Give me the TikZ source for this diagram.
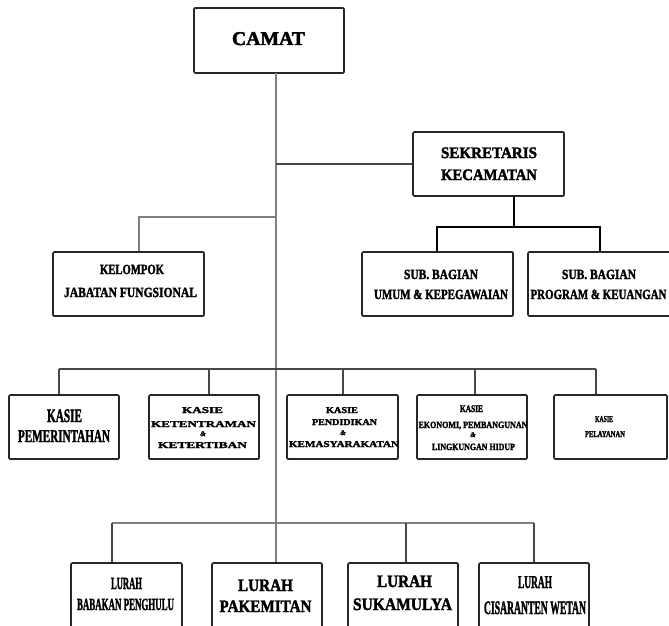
\documentclass[tikz,border=0pt]{standalone}
\usepackage{fontspec}
\setmainfont{Liberation Serif}[BoldFeatures={FakeBold=2.2},BoldItalicFeatures={FakeBold=2.2}]
\usepackage{graphicx}
\newcommand\tline[3]{{\fontsize{#1}{#1}\selectfont\bfseries\resizebox{#2pt}{\height}{#3}}}
\newcommand\amp[1]{{\fontsize{#1}{#1}\selectfont\bfseries\itshape\&}}
\begin{document}
\begin{tikzpicture}[x=1pt,y=-1pt,
  box/.style={draw=black!85, line width=1.7pt, rounded corners=1.2pt, inner sep=0pt, fill=white},
  tx/.style={anchor=base, inner sep=0pt, text=black},
  trunk/.style={draw=black!50, line width=1.3pt},
  link/.style={draw=black!72, line width=1.3pt},
  strong/.style={draw=black, line width=2pt}]
\clip (0,0) rectangle (669,626);
\fill[white] (0,0) rectangle (669,626);
% coordinates for connector bends
\coordinate (t0) at (276,73);
\coordinate (kj) at (139,217);
\coordinate (sj) at (514,227);
\coordinate (su) at (437,227);
\coordinate (sp) at (600,227);
\coordinate (a1) at (59,369);
\coordinate (a2) at (209,369);
\coordinate (a3) at (343,369);
\coordinate (a4) at (475,369);
\coordinate (a5) at (596,369);
\coordinate (c1) at (112,523);
\coordinate (c3) at (406,523);
\coordinate (c4) at (534,523);
% boxes
\node[box, minimum width=150pt, minimum height=65pt] (camat) at (269,40.5) {};
\node[box, minimum width=151pt, minimum height=64pt] (sek) at (488.5,164) {};
\node[box, minimum width=151pt, minimum height=64pt] (kel) at (128.5,284) {};
\node[box, minimum width=151pt, minimum height=64pt] (umum) at (437.5,284) {};
\node[box, minimum width=151pt, minimum height=64pt] (prog) at (603.5,284) {};
\node[box, minimum width=110pt, minimum height=64pt] (kp) at (64,427) {};
\node[box, minimum width=110pt, minimum height=64pt] (kk) at (204,427) {};
\node[box, minimum width=111pt, minimum height=64pt] (kpd) at (342.5,427) {};
\node[box, minimum width=110pt, minimum height=64pt] (ke) at (472,427) {};
\node[box, minimum width=113pt, minimum height=64pt] (kpl) at (610.5,427) {};
\node[box, minimum width=111pt, minimum height=80pt] (l1) at (126.5,603) {};
\node[box, minimum width=110pt, minimum height=80pt] (l2) at (267,603) {};
\node[box, minimum width=110pt, minimum height=80pt] (l3) at (403,603) {};
\node[box, minimum width=110pt, minimum height=80pt] (l4) at (534,603) {};
% connectors
\draw[trunk] (t0) -- (t0 |- l2.north);
\draw[link] (t0 |- sek.west) -- (sek.west);
\draw[trunk] (t0 |- kj) -- (kj) -- (kj |- kel.north);
\draw[strong] (sek.south -| sj) -- (sj);
\draw[strong] (su |- umum.north) -- (su) -- (sp) -- (sp |- prog.north);
\draw[link] (a1) -- (a5);
\draw[link] (a1) -- (a1 |- kp.north);
\draw[link] (a2) -- (a2 |- kk.north);
\draw[link] (a3) -- (a3 |- kpd.north);
\draw[link] (a4) -- (a4 |- ke.north);
\draw[link] (a5) -- (a5 |- kpl.north);
\draw[trunk] (c1) -- (c4);
\draw[link] (c1) -- (c1 |- l1.north);
\draw[link] (c3) -- (c3 |- l3.north);
\draw[link] (c4) -- (c4 |- l4.north);
% texts
\node[tx] (x1) at (268.5,45) {\tline{19.5}{73}{CAMAT}};
\node[tx] (x2) at (489,158) {\tline{16}{96}{SEKRETARIS}};
\node[tx] (x3) at (489,180) {\tline{16}{96}{KECAMATAN}};
\node[tx] (x4) at (132,274) {\tline{14}{64}{KELOMPOK}};
\node[tx] (x5) at (130.5,297) {\tline{14}{133}{JABATAN FUNGSIONAL}};
\node[tx] (x6) at (441,279) {\tline{14}{74}{SUB. BAGIAN}};
\node[tx] (x7) at (441,299) {\tline{14}{134}{UMUM \& KEPEGAWAIAN}};
\node[tx] (x8) at (599,279) {\tline{14}{74}{SUB. BAGIAN}};
\node[tx] (x9) at (598.5,299) {\tline{14}{136}{PROGRAM \& KEUANGAN}};
\node[tx] (x10) at (64.5,422) {\tline{19}{35}{KASIE}};
\node[tx] (x11) at (64,442) {\tline{18}{92}{PEMERINTAHAN}};
\node[tx] (x12) at (202.5,413) {\tline{9}{41}{KASIE}};
\node[tx] (x13) at (203.5,427) {\tline{9}{105}{KETENTRAMAN}};
\node[tx] (x14) at (203,436) {\amp{7}};
\node[tx] (x15) at (202.5,448) {\tline{9}{89}{KETERTIBAN}};
\node[tx] (x16) at (342,413) {\tline{9}{32}{KASIE}};
\node[tx] (x17) at (344.5,425) {\tline{9}{65}{PENDIDIKAN}};
\node[tx] (x18) at (343,435) {\amp{7}};
\node[tx] (x19) at (344,447) {\tline{9}{110}{KEMASYARAKATAN}};
\node[tx] (x20) at (471.5,412) {\tline{10}{23}{KASIE}};
\node[tx] (x21) at (473,428) {\tline{9.5}{109}{EKONOMI, PEMBANGUNAN}};
\node[tx] (x22) at (473,437) {\amp{7}};
\node[tx] (x23) at (473.5,450) {\tline{9.5}{83}{LINGKUNGAN HIDUP}};
\node[tx] (x24) at (604,422) {\tline{9}{18}{KASIE}};
\node[tx] (x25) at (605,437) {\tline{9}{40}{PELAYANAN}};
\node[tx] (x26) at (126.5,589) {\tline{17}{31}{LURAH}};
\node[tx] (x27) at (125.5,610) {\tline{17}{97}{BABAKAN PENGHULU}};
\node[tx] (x28) at (265.5,591) {\tline{17.5}{55}{LURAH}};
\node[tx] (x29) at (265.5,612) {\tline{17.5}{92}{PAKEMITAN}};
\node[tx] (x30) at (404.5,587) {\tline{17.5}{55}{LURAH}};
\node[tx] (x31) at (402.5,610) {\tline{17.5}{99}{SUKAMULYA}};
\node[tx] (x32) at (535,588) {\tline{18}{34}{LURAH}};
\node[tx] (x33) at (535,614) {\tline{19}{102}{CISARANTEN WETAN}};
\end{tikzpicture}
\end{document}
